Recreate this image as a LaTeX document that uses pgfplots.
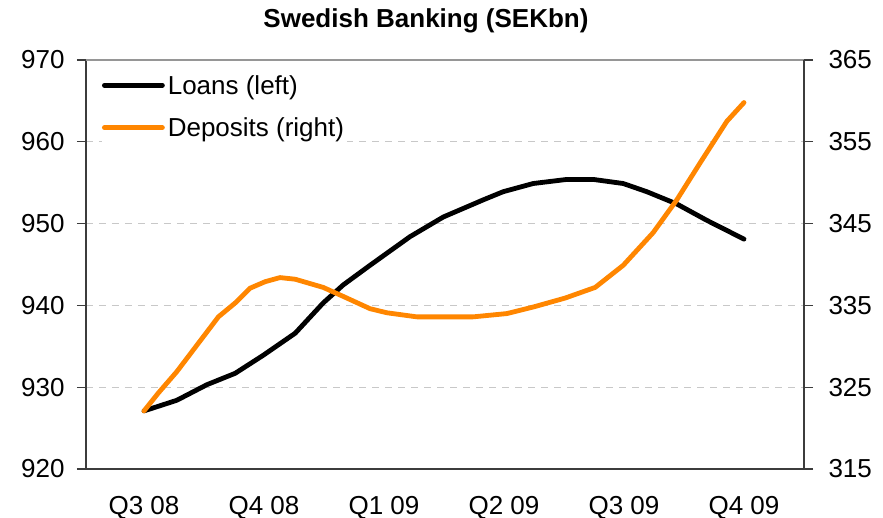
\documentclass[border=0pt]{standalone}
\usepackage{fontspec}
\setmainfont{Liberation Sans}
\usepackage{pgfplots}
\pgfplotsset{compat=1.18}
\definecolor{dep}{RGB}{255,134,0}
\definecolor{axgray}{RGB}{60,60,60}
\definecolor{gridgray}{RGB}{200,200,200}
\definecolor{topgray}{RGB}{150,150,150}
\pgfplotsset{
  base/.style={
    scale only axis, width=718bp, height=409bp,
    xmin=-1.45, xmax=16.5,
    font=\fontsize{26bp}{31bp}\selectfont,
    /pgf/number format/assume math mode=true,
    tick align=outside, major tick length=9bp,
    axis line style={axgray, line width=1.3bp},
    tick style={axgray, line width=1.3bp},
  }
}
\begin{document}
\begin{tikzpicture}
\useasboundingbox (-86bp,-49bp) rectangle (797bp,469bp);
\begin{axis}[base,
  ymin=920, ymax=970, ytick={920,930,...,970},
  axis x line*=bottom, axis y line*=left,
  xtick={0,3,6,9,12,15},
  xticklabels={Q3 08,Q4 08,Q1 09,Q2 09,Q3 09,Q4 09},
  x tick style={draw=none},
  xticklabel style={anchor=base, yshift=-36bp},
  yticklabel style={xshift=-9bp},
  ymajorgrids, grid style={gridgray, dash pattern=on 7bp off 6bp, line width=1bp},
  title={\bfseries Swedish Banking (SEKbn)},
  title style={at={(rel axis cs:0.4735,1)}, anchor=base, yshift=27bp, font=\fontsize{26bp}{31bp}\selectfont},
]
\draw[topgray, line width=1.3bp] (rel axis cs:0,1) -- (rel axis cs:1,1);
\addplot[black, line width=4.8bp, line join=round, line cap=round] coordinates {
(0,927.1) (0.82,928.4) (1.57,930.3) (2.28,931.7) (2.98,933.9) (3.78,936.6)
(4.48,940.3) (4.98,942.5) (5.65,944.9) (6.65,948.4) (7.48,950.8) (8.48,952.9)
(8.98,953.9) (9.73,954.9) (10.57,955.4) (11.23,955.4) (11.98,954.9) (12.57,953.9)
(13.32,952.4) (14.07,950.4) (15,948.1)
};
\end{axis}
\begin{axis}[base,
  ymin=315, ymax=365, ytick={315,325,...,365},
  axis y line*=right, axis x line=none,
  yticklabel style={xshift=12bp},
  legend style={at={(rel axis cs:0.022,0.978)}, anchor=north west, draw=none, fill=white,
    font=\fontsize{26bp}{31bp}\selectfont, inner xsep=0bp, inner ysep=4bp, row sep=18bp,
    nodes={inner xsep=3bp}},
  legend cell align=left,
  legend image code/.code={\draw[#1] (0bp,0bp) -- (58bp,0bp);},
]
\addlegendimage{black, line width=4.8bp, line cap=round}
\addlegendentry{Loans (left)}
\addlegendimage{dep, line width=4.8bp, line cap=round}
\addlegendentry{Deposits (right)}
\addplot[dep, line width=4.8bp, line join=round, line cap=round] coordinates {
(0,322.1) (0.36,324.3) (0.82,326.9) (1.86,333.6) (2.28,335.3) (2.65,337.1)
(3.03,337.9) (3.4,338.4) (3.78,338.2) (4.48,337.2) (4.98,336.1) (5.65,334.6)
(6.07,334.1) (6.82,333.6) (8.23,333.6) (9.07,334.0) (9.73,334.8) (10.53,335.9)
(11.28,337.2) (11.98,339.9) (12.73,343.9) (13.32,347.9) (13.9,352.4) (14.57,357.5) (15,359.8)
};
\end{axis}
\end{tikzpicture}
\end{document}
